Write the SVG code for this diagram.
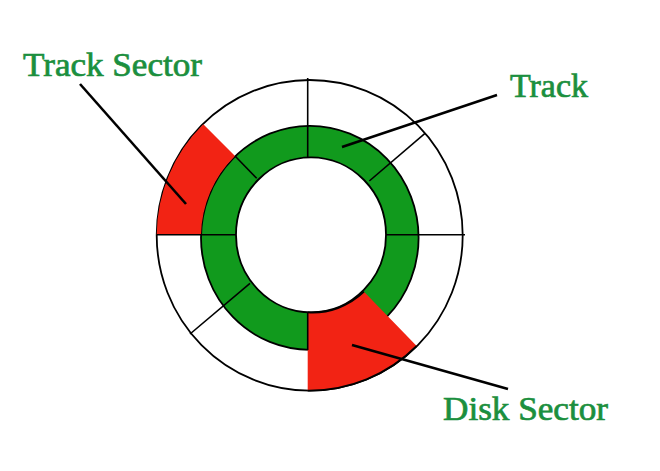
<svg xmlns="http://www.w3.org/2000/svg" width="660" height="471" viewBox="0 0 660 471">
<style>
.ring{fill:none;stroke:#000;stroke-width:1.8}
.div{stroke:#000;stroke-width:1.6;fill:none}
.lead{stroke:#000;stroke-width:2.6;fill:none}
.red{fill:#f22314;stroke:none}
.label{font-family:"Liberation Serif",serif;font-size:33px;fill:#1b8f3e;stroke:#1b8f3e;stroke-width:.7}
</style>
<rect width="660" height="471" fill="#fff"/>
<g id="disk-outer"><ellipse class="ring" cx="309.7" cy="235.3" rx="153" ry="155.3"/></g>
<g id="track"><path fill="#119a1d" fill-rule="evenodd" stroke="#000" stroke-width="1.8" d="M201 237.8a108.8 112 0 1 0 217.6 0a108.8 112 0 1 0 -217.6 0zM236 234.8a75 77.5 0 1 1 150 0a75 77.5 0 1 1 -150 0z"/></g>
<g id="track-sector"><path class="red" d="M203.3 124.3A153 155.3 0 0 0 156.7 234.7H201A108.8 112 0 0 1 235 156Z"/></g>
<g id="disk-sector"><path class="red" d="M307.7 312.3V390.6A153 155.3 0 0 0 416.7 346L364 291.7A75 77.5 0 0 1 307.7 312.3Z"/><path class="ring" d="M307.7 390.6A153 155.3 0 0 0 416.7 346M364 291.7A75 77.5 0 0 1 307.7 312.3"/></g>
<g id="dividers">
<path class="div" d="M307.7 78V157.3"/>
<path class="div" d="M156.7 234.7H236M386 234.7H465"/>
<path class="div" d="M369.3 181L425 133.3"/>
<path class="div" d="M250 283.3L190 334"/>
<path class="div" d="M256.7 178.3L235 156"/>
<path class="div" d="M307.7 312.3V350"/>
</g>
<g id="connectors">
<path class="lead" d="M497 95L342 147"/>
<path class="lead" d="M80 84L186 204"/>
<path class="lead" d="M352 345L508 389"/>
</g>
<g id="label-track-sector"><text class="label" x="23" y="76" textLength="179" lengthAdjust="spacingAndGlyphs">Track Sector</text></g>
<g id="label-track"><text class="label" x="510" y="97" textLength="78" lengthAdjust="spacingAndGlyphs">Track</text></g>
<g id="label-disk-sector"><text class="label" x="443" y="420" textLength="165" lengthAdjust="spacingAndGlyphs">Disk Sector</text></g>
</svg>
